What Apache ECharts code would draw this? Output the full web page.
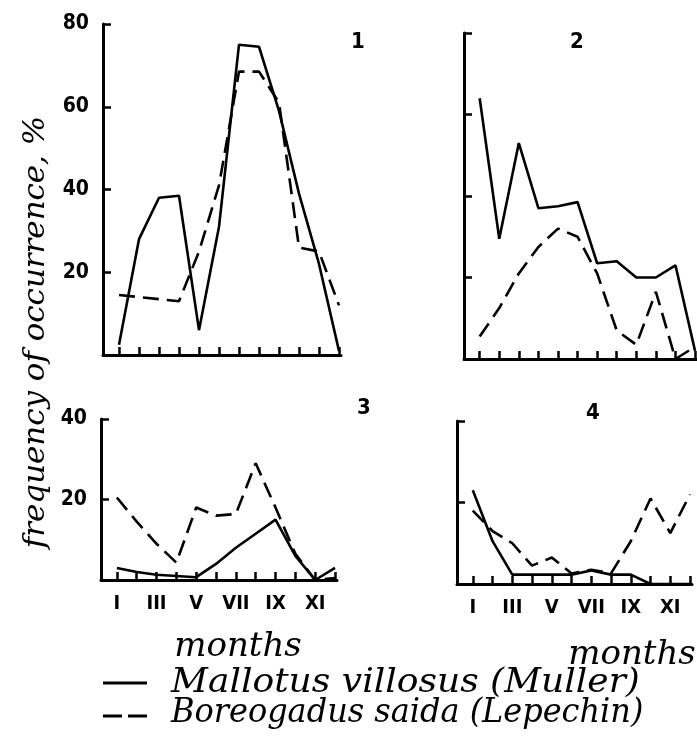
<!DOCTYPE html>
<html>
<head>
<meta charset="utf-8">
<script src="https://cdn.jsdelivr.net/npm/echarts@6/dist/echarts.min.js"></script>
<style>
  html, body { margin: 0; padding: 0; background: #fff; }
  #chart { width: 697px; height: 743px; }
</style>
</head>
<body>
<div id="chart"></div>
<script>
// month labels (roman numerals)
const months = ['I', 'II', 'III', 'IV', 'V', 'VI', 'VII', 'VIII', 'IX', 'X', 'XI', 'XII'];
const labelledMonths = [1, 3, 5, 7, 9, 11];

// frequency of occurrence, % — panel 1..4
const mallotus1 = [2.5, 28, 38, 38.5, 6, 31, 75, 74.5, 59, 39, 22, 1];
const boreo1 = [14.5, 14, 13.5, 13, 25, 41, 68.5, 68.5, 61, 26, 25, 12];

const mallotus2 = [64, 29.5, 53, 37, 37.5, 38.5, 23.5, 24, 20, 20, 23, 2];
const boreo2 = [5.5, 12.5, 21, 27.5, 32, 30, 21, 7, 3.5, 16.5, 0, 3];

const mallotus3 = [3, 2, 1.3, 1, 0.7, 4, 8, 11.5, 15, 6, 0, 3];
const boreo3 = [20.5, 14.5, 9, 4.3, 18, 16, 16.4, 29, 18, 6.5, 0, 0.5];

const mallotus4 = [23, 10.5, 2.3, 2.3, 2.3, 2.3, 3.3, 2.3, 2.3, 0, 0, 0];
const boreo4 = [18, 13, 10, 4.5, 6.5, 2.6, 3.5, 2.6, 10.5, 21, 12.5, 22];

const yMax = [80, 80, 40, 40];
const yLabels = [true, false, true, false];
const xLabels = [false, false, true, true];

const nameM = 'Mallotus villosus (Muller)';
const nameB = 'Boreogadus saida (Lepechin)';

const grids = [
    { left: 103, top: 24, width: 238, height: 331 },
    { left: 464, top: 33, width: 238, height: 326 },
    { left: 101, top: 419, width: 236, height: 161 },
    { left: 457, top: 421, width: 235, height: 163 }
];

const numFont = '"DejaVu Sans Condensed", "DejaVu Sans", sans-serif';
const scriptFont = '"DejaVu Serif", serif';

function pairs(arr) {
    return arr.map((v, i) => [i + 1, v]);
}

const xAxes = grids.map((g, i) => ({
    type: 'value',
    gridIndex: i,
    min: 0.2,
    max: 12.1,
    splitLine: { show: false },
    axisLine: { show: true, lineStyle: { color: '#000', width: 3 } },
    axisTick: {
        show: true, inside: true, length: 8,
        lineStyle: { color: '#000', width: 2.5 },
        customValues: months.map((m, k) => k + 1)
    },
    axisLabel: {
        show: xLabels[i],
        customValues: labelledMonths,
        formatter: v => months[Math.round(v) - 1],
        margin: 14,
        color: '#000',
        fontFamily: numFont,
        fontWeight: 'bold',
        fontSize: 20
    }
}));

const yAxes = grids.map((g, i) => ({
    type: 'value',
    gridIndex: i,
    min: 0,
    max: yMax[i],
    interval: 20,
    splitLine: { show: false },
    axisLine: { show: true, lineStyle: { color: '#000', width: 3 } },
    axisTick: { show: true, inside: true, length: 8, lineStyle: { color: '#000', width: 2.5 } },
    axisLabel: {
        show: yLabels[i],
        formatter: v => (v === 0 ? '' : v),
        margin: 14,
        color: '#000',
        fontFamily: numFont,
        fontWeight: 'bold',
        fontSize: 21
    }
}));

const panelData = [
    [mallotus1, boreo1],
    [mallotus2, boreo2],
    [mallotus3, boreo3],
    [mallotus4, boreo4]
];

const series = [];
panelData.forEach((pd, i) => {
    series.push({
        name: nameM, type: 'line', xAxisIndex: i, yAxisIndex: i,
        data: pairs(pd[0]), symbol: 'none', silent: true,
        lineStyle: { color: '#000', width: 2.6, type: 'solid' }
    });
    series.push({
        name: nameB, type: 'line', xAxisIndex: i, yAxisIndex: i,
        data: pairs(pd[1]), symbol: 'none', silent: true,
        lineStyle: { color: '#000', width: 2.6, type: [16, 8] }
    });
});

function label(text, x, y, size, extra) {
    return Object.assign({
        type: 'text', x: x, y: y,
        style: {
            text: text, fontSize: size, fontStyle: 'italic', fontFamily: scriptFont,
            align: 'center', verticalAlign: 'middle', fill: '#000'
        }
    }, extra || {});
}

function panelNo(text, x, y) {
    return {
        type: 'text', x: x, y: y,
        style: { text: text, fontSize: 22, fontWeight: 'bold', fontFamily: numFont, align: 'center', verticalAlign: 'middle', fill: '#000' }
    };
}

const chart = echarts.init(document.getElementById('chart'));
chart.setOption({
    backgroundColor: '#fff',
    animation: false,
    grid: grids,
    xAxis: xAxes,
    yAxis: yAxes,
    series: series,
    graphic: [
        // panel numbers
        panelNo('1', 358, 42),
        panelNo('2', 577, 42),
        panelNo('3', 364, 408),
        panelNo('4', 593, 413),
        // y axis name
        label('frequency of occurrence, %', 36, 332, 30, { rotation: Math.PI / 2, scaleX: 1.03 }),
        // x axis names
        label('months', 238, 647, 34),
        label('months', 632, 655, 34),
        // legend
        { type: 'line', shape: { x1: 103, y1: 683, x2: 147, y2: 683 }, style: { stroke: '#000', lineWidth: 3 } },
        { type: 'line', shape: { x1: 103, y1: 716, x2: 147, y2: 716 }, style: { stroke: '#000', lineWidth: 3, lineDash: [19, 6] } },
        {
            type: 'text', x: 171, y: 683, scaleX: 1.06,
            style: { text: nameM, fontSize: 34, fontStyle: 'italic', fontFamily: scriptFont, align: 'left', verticalAlign: 'middle', fill: '#000' }
        },
        {
            type: 'text', x: 171, y: 713, scaleX: 0.94,
            style: { text: nameB, fontSize: 34, fontStyle: 'italic', fontFamily: scriptFont, align: 'left', verticalAlign: 'middle', fill: '#000' }
        }
    ]
});
</script>
</body>
</html>
